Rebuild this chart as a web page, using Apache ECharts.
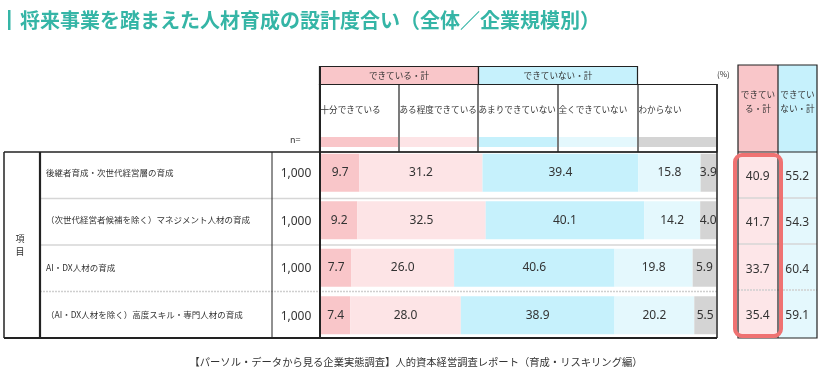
<!DOCTYPE html>
<html><head><meta charset="utf-8">
<script src="https://cdn.jsdelivr.net/npm/echarts@6/dist/echarts.min.js"></script>
<style>html,body{margin:0;padding:0;background:#fff}#c{width:823px;height:379px}</style>
</head><body><div id="c"></div>
<script>
const titleText = '将来事業を踏まえた人材育成の設計度合い（全体／企業規模別）';
const categories = [
  '後継者育成・次世代経営層の育成',
  '（次世代経営者候補を除く）マネジメント人材の育成',
  'AI・DX人材の育成',
  '（AI・DX人材を除く）高度スキル・専門人材の育成'
];
const nValues = ['1,000', '1,000', '1,000', '1,000'];
const seriesNames = ['十分できている', 'ある程度できている', 'あまりできていない', '全くできていない', 'わからない'];
const fullyDone = [9.7, 9.2, 7.7, 7.4];
const somewhatDone = [31.2, 32.5, 26.0, 28.0];
const notMuch = [39.4, 40.1, 40.6, 38.9];
const notAtAll = [15.8, 14.2, 19.8, 20.2];
const unknown = [3.9, 4.0, 5.9, 5.5];
const groupLabels = ['できている・計', 'できていない・計'];
const groupLabelsWrapped = ['できてい\nる・計', 'できてい\nない・計'];
const totalDone = [40.9, 41.7, 33.7, 35.4];
const totalNotDone = [55.2, 54.3, 60.4, 59.1];
const footerText = '【パーソル・データから見る企業実態調査】人的資本経営調査レポート（育成・リスキリング編）';

const segColors = ['#f9c6c9', '#fde4e6', '#c6f1fc', '#e4f8fd', '#d4d4d4'];
const segData = [fullyDone, somewhatDone, notMuch, notAtAll, unknown];
const JP = '"Noto Sans CJK JP", sans-serif';
const NUM = '"Noto Sans", "Noto Sans CJK JP", sans-serif';
const TEAL = '#35b5a6';
const INK = '#333333';

function txt(x, y, text, size, opts) {
  opts = opts || {};
  const al = opts.align || 'left';
  const va = opts.va || 'middle';
  return {
    type: 'text', x: x, y: y, z: opts.z || 20,
    style: {
      text: text, fill: opts.fill || INK, fontSize: size, fontFamily: opts.family || JP,
      fontWeight: opts.weight || 'normal', align: al, verticalAlign: va,
      textAlign: al, textVerticalAlign: va, lineHeight: opts.lh
    }
  };
}
function ln(x1, y1, x2, y2, w, color, z, dash) {
  return { type: 'line', z: z == null ? 15 : z, shape: { x1: x1, y1: y1, x2: x2, y2: y2 },
    style: { stroke: color || '#222', lineWidth: w || 1, lineDash: dash || null } };
}
function rc(x, y, w, h, fill, stroke, lw, z, r) {
  return { type: 'rect', z: z == null ? 1 : z, shape: { x: x, y: y, width: w, height: h, r: r || 0 },
    style: { fill: fill || 'none', stroke: stroke || 'none', lineWidth: lw || 0 } };
}

const els = [];
// title
els.push(rc(8, 10, 2.5, 20, TEAL, null, 0, 5));
els.push(txt(20, 20, titleText, 20, { fill: TEAL, weight: 'bold' }));
// header group boxes
els.push(rc(319.5, 66.5, 159, 18, segColors[0], '#222', 1.2, 5));
els.push(rc(478.5, 66.5, 159, 18, segColors[2], '#222', 1.2, 5));
els.push(txt(399, 75.5, groupLabels[0], 8.6, { align: 'center' }));
els.push(txt(558, 75.5, groupLabels[1], 8.6, { align: 'center' }));
// sub header box
els.push(rc(319.5, 84.5, 397.5, 67.5, '#fff', '#222', 1.2, 5));
[399, 478, 558, 638].forEach(x => els.push(ln(x, 84.5, x, 152, 1.2)));
const swX = [[321, 398], [400, 477], [479, 557], [559, 637], [639, 716]];
swX.forEach((s, i) => {
  els.push(rc(s[0], 137, s[1] - s[0], 10, segColors[i], null, 0, 6));
  els.push(txt(s[0] - 0.5, 110, seriesNames[i], 8.6));
});
els.push(txt(717, 74, '(%)', 8));
els.push(txt(290, 140, 'n=', 9));
// row dividers
[198.5, 245].forEach(y => els.push(ln(40, y, 717, y, 1.5, '#d6d6d6', 1)));
els.push(ln(40, 291.5, 717, 291.5, 1.5, '#cfcfcf', 1, [2, 1]));
// left table borders
els.push(ln(4, 152, 717, 152, 1.5));
els.push(ln(4, 152, 4, 338, 1.5));
els.push(ln(4, 338, 717, 338, 1.8));
els.push(ln(40, 152, 40, 338, 2.2));
els.push(ln(272, 152, 272, 338, 1));
els.push(ln(320, 66, 320, 338, 2));
els.push(ln(717, 84, 717, 338, 1.5));
els.push(txt(20, 239, '項', 9, { align: 'center' }));
els.push(txt(20, 252, '目', 9, { align: 'center' }));
// right table
els.push(rc(738, 65, 40, 87, segColors[0], null, 0, 1));
els.push(rc(778, 65, 39, 87, segColors[2], null, 0, 1));
els.push(rc(738, 152, 40, 186, '#fde6e8', null, 0, 1));
els.push(rc(778, 152, 39, 186, '#e4f8fd', null, 0, 1));
[198, 244].forEach(y => els.push(ln(738, y, 817, y, 1.5, '#d6d6d6', 2)));
els.push(ln(738, 290, 817, 290, 1.5, '#cfcfcf', 2, [2, 1]));
els.push(rc(738, 65, 79, 273, null, '#222', 1.2, 15));
els.push(ln(778, 65, 778, 338, 1.2));
els.push(ln(738, 152, 817, 152, 1.2));
els.push(txt(758, 102, groupLabelsWrapped[0], 8.6, { align: 'center', lh: 14 }));
els.push(txt(797.5, 102, groupLabelsWrapped[1], 8.6, { align: 'center', lh: 14 }));
els.push(rc(735, 155, 46, 181, null, '#ef7272', 4, 30, 7));
// footer
els.push(txt(416, 362, footerText, 10.3, { align: 'center' }));

const barSeries = seriesNames.map((name, i) => ({
  name: name, type: 'bar', stack: 'all', xAxisIndex: 0, yAxisIndex: 0,
  barWidth: 38, data: segData[i], z: 3,
  itemStyle: { color: segColors[i] },
  label: { show: true, position: 'inside', color: INK, fontSize: 12, fontFamily: NUM,
    formatter: p => Number(p.value).toFixed(1) },
  emphasis: { disabled: true }
}));

const nSeries = {
  type: 'custom', xAxisIndex: 0, yAxisIndex: 0, z: 20,
  data: categories.map((c, i) => [0, i]),
  renderItem: (params, api) => {
    const p = api.coord([0, api.value(1)]);
    return { type: 'text', x: p[0] - 25, y: p[1] + 1,
      style: { text: nValues[params.dataIndex], fill: INK, fontSize: 12, fontFamily: NUM,
        align: 'center', verticalAlign: 'middle', textAlign: 'center', textVerticalAlign: 'middle' } };
  }
};

const totalsData = [];
categories.forEach((c, i) => { totalsData.push([0, i, totalDone[i]]); totalsData.push([1, i, totalNotDone[i]]); });
const totalSeries = {
  type: 'custom', xAxisIndex: 1, yAxisIndex: 1, z: 20,
  data: totalsData,
  renderItem: (params, api) => {
    const p = api.coord([api.value(0), api.value(1)]);
    return { type: 'text', x: p[0], y: p[1] + 1,
      style: { text: Number(api.value(2)).toFixed(1), fill: INK, fontSize: 12, fontFamily: NUM,
        align: 'center', verticalAlign: 'middle', textAlign: 'center', textVerticalAlign: 'middle' } };
  }
};

const chart = echarts.init(document.getElementById('c'), null, { renderer: 'canvas' });
chart.setOption({
  animation: false,
  backgroundColor: '#fff',
  grid: [
    { left: 321, top: 149, width: 395, height: 190 },
    { left: 738, top: 152, width: 79, height: 186 }
  ],
  xAxis: [
    { type: 'value', gridIndex: 0, min: 0, max: 100, show: false },
    { type: 'category', gridIndex: 1, data: groupLabels, show: false }
  ],
  yAxis: [
    { type: 'category', gridIndex: 0, data: categories, inverse: true,
      axisLine: { show: false }, axisTick: { show: false }, splitLine: { show: false },
      axisLabel: { interval: 0, align: 'left', margin: 275, fontSize: 8.5, color: INK, fontFamily: JP } },
    { type: 'category', gridIndex: 1, data: categories, inverse: true, show: false }
  ],
  series: barSeries.concat([nSeries, totalSeries]),
  graphic: { elements: els }
});
</script>
</body></html>
